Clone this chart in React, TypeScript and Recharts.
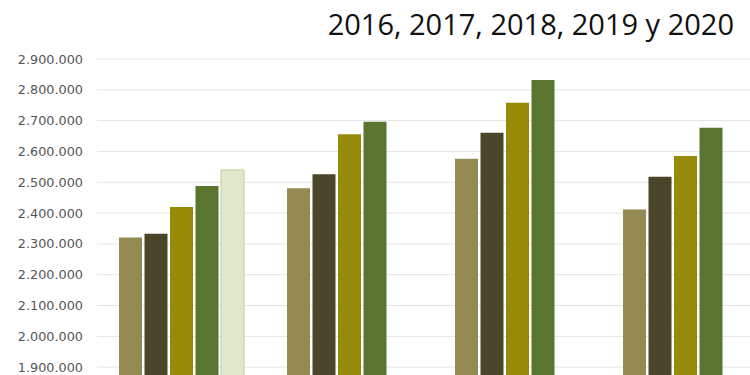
import React from "react";
import { BarChart, Bar, XAxis, YAxis, CartesianGrid } from "recharts";

// Four groups, one bar per year (2020 only known for the first group)
const groups = ["G1", "G2", "G3", "G4"];
const y2016 = [2321000, 2481000, 2576000, 2412000];
const y2017 = [2333000, 2526000, 2661000, 2518000];
const y2018 = [2420000, 2656000, 2758000, 2585000];
const y2019 = [2488000, 2696000, 2832000, 2677000];
const y2020 = [2540000, null, null, null];

const yTicks = [
    1900000, 2000000, 2100000, 2200000, 2300000, 2400000, 2500000, 2600000,
    2700000, 2800000, 2900000,
];

const title = "2016, 2017, 2018, 2019 y 2020";

const data = groups.map((g, i) => ({
    name: g,
    y2016: y2016[i],
    y2017: y2017[i],
    y2018: y2018[i],
    y2019: y2019[i],
    y2020: y2020[i],
}));

const fmt = (v: number) => v.toLocaleString("de-DE");

export default function App() {
    return (
        <div
            style={{
                position: "fixed",
                left: 0,
                top: 0,
                width: 750,
                height: 375,
                overflow: "hidden",
                background: "#fff",
            }}
        >
            <BarChart
                width={770}
                height={410}
                data={data}
                margin={{ top: 59, right: 1, left: 0, bottom: 12 }}
                barSize={23}
                barGap={2.5}
            >
                <CartesianGrid vertical={false} stroke="#e4e4e4" strokeWidth={1} />
                <XAxis dataKey="name" hide />
                {/* axis runs on below the visible area, the picture is cropped there */}
                <YAxis
                    width={97}
                    domain={[1800000, 2900000]}
                    ticks={yTicks}
                    tickFormatter={fmt}
                    axisLine={false}
                    tickLine={false}
                    tickSize={0}
                    tickMargin={14}
                    tick={{ fontSize: 12.8, fill: "#555555", fontFamily: "DejaVu Sans" }}
                    allowDataOverflow
                />
                <Bar dataKey="y2016" fill="#948a54" isAnimationActive={false} />
                <Bar dataKey="y2017" fill="#4a4529" isAnimationActive={false} />
                <Bar dataKey="y2018" fill="#968a08" isAnimationActive={false} />
                <Bar dataKey="y2019" fill="#5a7530" isAnimationActive={false} />
                <Bar
                    dataKey="y2020"
                    fill="#e0e9cc"
                    stroke="#c3c9a6"
                    strokeWidth={1}
                    isAnimationActive={false}
                />
            </BarChart>
            <svg
                width={750}
                height={375}
                style={{ position: "absolute", left: 0, top: 0, pointerEvents: "none" }}
            >
                <text
                    x={734}
                    y={35}
                    textAnchor="end"
                    fontFamily="Open Sans"
                    fontSize={29}
                    fill="#111"
                >
                    {title}
                </text>
            </svg>
        </div>
    );
}
